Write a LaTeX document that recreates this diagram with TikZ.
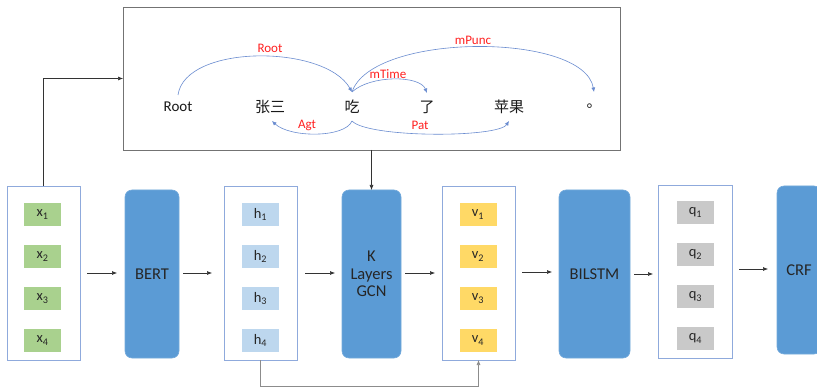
\documentclass[tikz,border=0pt]{standalone}
\usepackage{fontspec}
\setmainfont{Carlito}
\newfontfamily\cjk{Noto Sans CJK SC}
\usetikzlibrary{arrows.meta,calc}
\definecolor{framec}{HTML}{8FAADC}
\definecolor{blk}{HTML}{5B9BD5}
\definecolor{arcc}{HTML}{6A8CD0}
\definecolor{cgreen}{HTML}{A9D18E}
\definecolor{cblue}{HTML}{BDD7EE}
\definecolor{cyellow}{HTML}{FFD966}
\definecolor{cgray}{HTML}{C9C9C9}
\definecolor{labred}{HTML}{FF2020}
\begin{document}
\begin{tikzpicture}[x=1pt,y=-1pt,
  frame/.style={draw=framec, line width=0.9pt, fill=white, inner sep=0pt, outer sep=0pt, minimum width=73pt, minimum height=174pt},
  block/.style={fill=blk, draw=blk!85!white, line width=0.6pt, rounded corners=7pt, inner sep=0pt, outer sep=0pt, minimum height=168pt, align=center, font=\fontsize{16.5}{17.5}\selectfont, text=black!85},
  cell/.style={minimum width=37pt, minimum height=23pt, inner sep=0pt, font=\fontsize{14.5}{15}\selectfont, text=black!85},
  conn/.style={-{Latex[length=5pt,width=4pt]}, line width=0.6pt, draw=black!80},
  dep/.style={draw=arcc, line width=0.6pt, -{Latex[length=4.5pt,width=4pt]}},
  lab/.style={text=labred, font=\fontsize{13}{14}\selectfont, inner sep=0pt},
  word/.style={font=\fontsize{15}{17}\selectfont, inner sep=0pt, text=black!90}
]
\useasboundingbox (0,0) rectangle (817,390);

% top dependency box
\node[draw=black!55, line width=0.7pt, fill=white, minimum width=497pt, minimum height=143pt, inner sep=0pt, outer sep=0pt] (top) at (371.5,78.5) {};
\node[word] (root) at (178,107) {Root};
\node[word] (zhang) at (270,107) {\cjk 张三};
\node[word] (chi) at (352,107) {\cjk 吃};
\node[word] (liao) at (427,107) {\cjk 了};
\node[word] (ping) at (509,107) {\cjk 苹果};
\node[word] (punc) at (594,106) {\cjk 。};

\coordinate (chiT) at ($(chi.center)+(0,-15)$);
\coordinate (chiB) at ($(chi.center)+(0,14)$);
\draw[dep] ($(root.center)+(0,-12)$) .. controls (185,44) and (325,44) .. (chiT);
\draw[dep] (chiT) .. controls (372,32) and (584,32) .. ($(punc.center)+(0,-14)$);
\draw[dep] (chiT) .. controls (370,75) and (420,75) .. ($(liao.center)+(0,-14)$);
\draw[dep] (chiB) .. controls (345,138) and (290,138) .. ($(zhang.center)+(2,14)$);
\draw[dep] (chiB) .. controls (368,138) and (498,138) .. ($(ping.center)+(0,14)$);

\node[lab] (lroot) at (270,48) {Root};
\node[lab] (lpunc) at (473,40) {mPunc};
\node[lab] (ltime) at (388,74) {mTime};
\node[lab] (lagt) at (307,125) {Agt};
\node[lab] (lpat) at (420,125) {Pat};

% bottom row
\node[frame] (xb) at (43.5,273) {};
\node[block, minimum width=54pt] (bert) at (152,274) {BERT};
\node[frame] (hb) at (260.5,273) {};
\node[block, minimum width=59pt] (gcn) at (371.5,274) {K\\Layers\\GCN};
\node[frame] (vb) at (478.5,273) {};
\node[block, minimum width=71pt] (lstm) at (594.5,274) {BILSTM};
\node[frame, minimum width=74pt, minimum height=173pt] (qb) at (695,271.5) {};
\node[block, minimum width=44pt] (crf) at (799,270) {CRF};

\foreach \i/\y in {1/214.5,2/256.5,3/298.5,4/340.5}{
  \node[cell, fill=cgreen] (x\i) at (42.5,\y) {x\textsubscript{\i}};
  \node[cell, fill=cblue] (h\i) at (260.5,\y) {h\textsubscript{\i}};
  \node[cell, fill=cyellow] (v\i) at (478,\y) {v\textsubscript{\i}};
}
\foreach \i/\y in {1/212.5,2/254.5,3/296.5,4/338.5}{
  \node[cell, fill=cgray] (q\i) at (695.5,\y) {q\textsubscript{\i}};
}

% connectors
\draw[conn] (xb.north) |- (top.west);
\draw[conn] (top.south -| gcn.north) -- (gcn.north);
\draw[conn, shorten <=7pt, shorten >=8pt] (xb.east |- 0,273) -- (bert.west |- 0,273);
\draw[conn, shorten <=4pt, shorten >=12pt] (bert.east |- 0,273) -- (hb.west |- 0,273);
\draw[conn, shorten <=8pt, shorten >=7pt] (hb.east |- 0,273) -- (gcn.west |- 0,273);
\draw[conn, shorten <=4pt, shorten >=7pt] (gcn.east |- 0,273) -- (vb.west |- 0,273);
\draw[conn, shorten <=7pt, shorten >=7pt] (vb.east |- 0,272) -- (lstm.west |- 0,272);
\draw[conn, shorten <=4pt, shorten >=5pt] (lstm.east |- 0,274) -- (qb.west |- 0,274);
\draw[conn, shorten <=7pt, shorten >=9pt] (qb.east |- 0,269) -- (crf.west |- 0,269);
\draw[conn, draw=black!45] (hb.south) -- ++(0,26) -| (vb.south);
\end{tikzpicture}
\end{document}
